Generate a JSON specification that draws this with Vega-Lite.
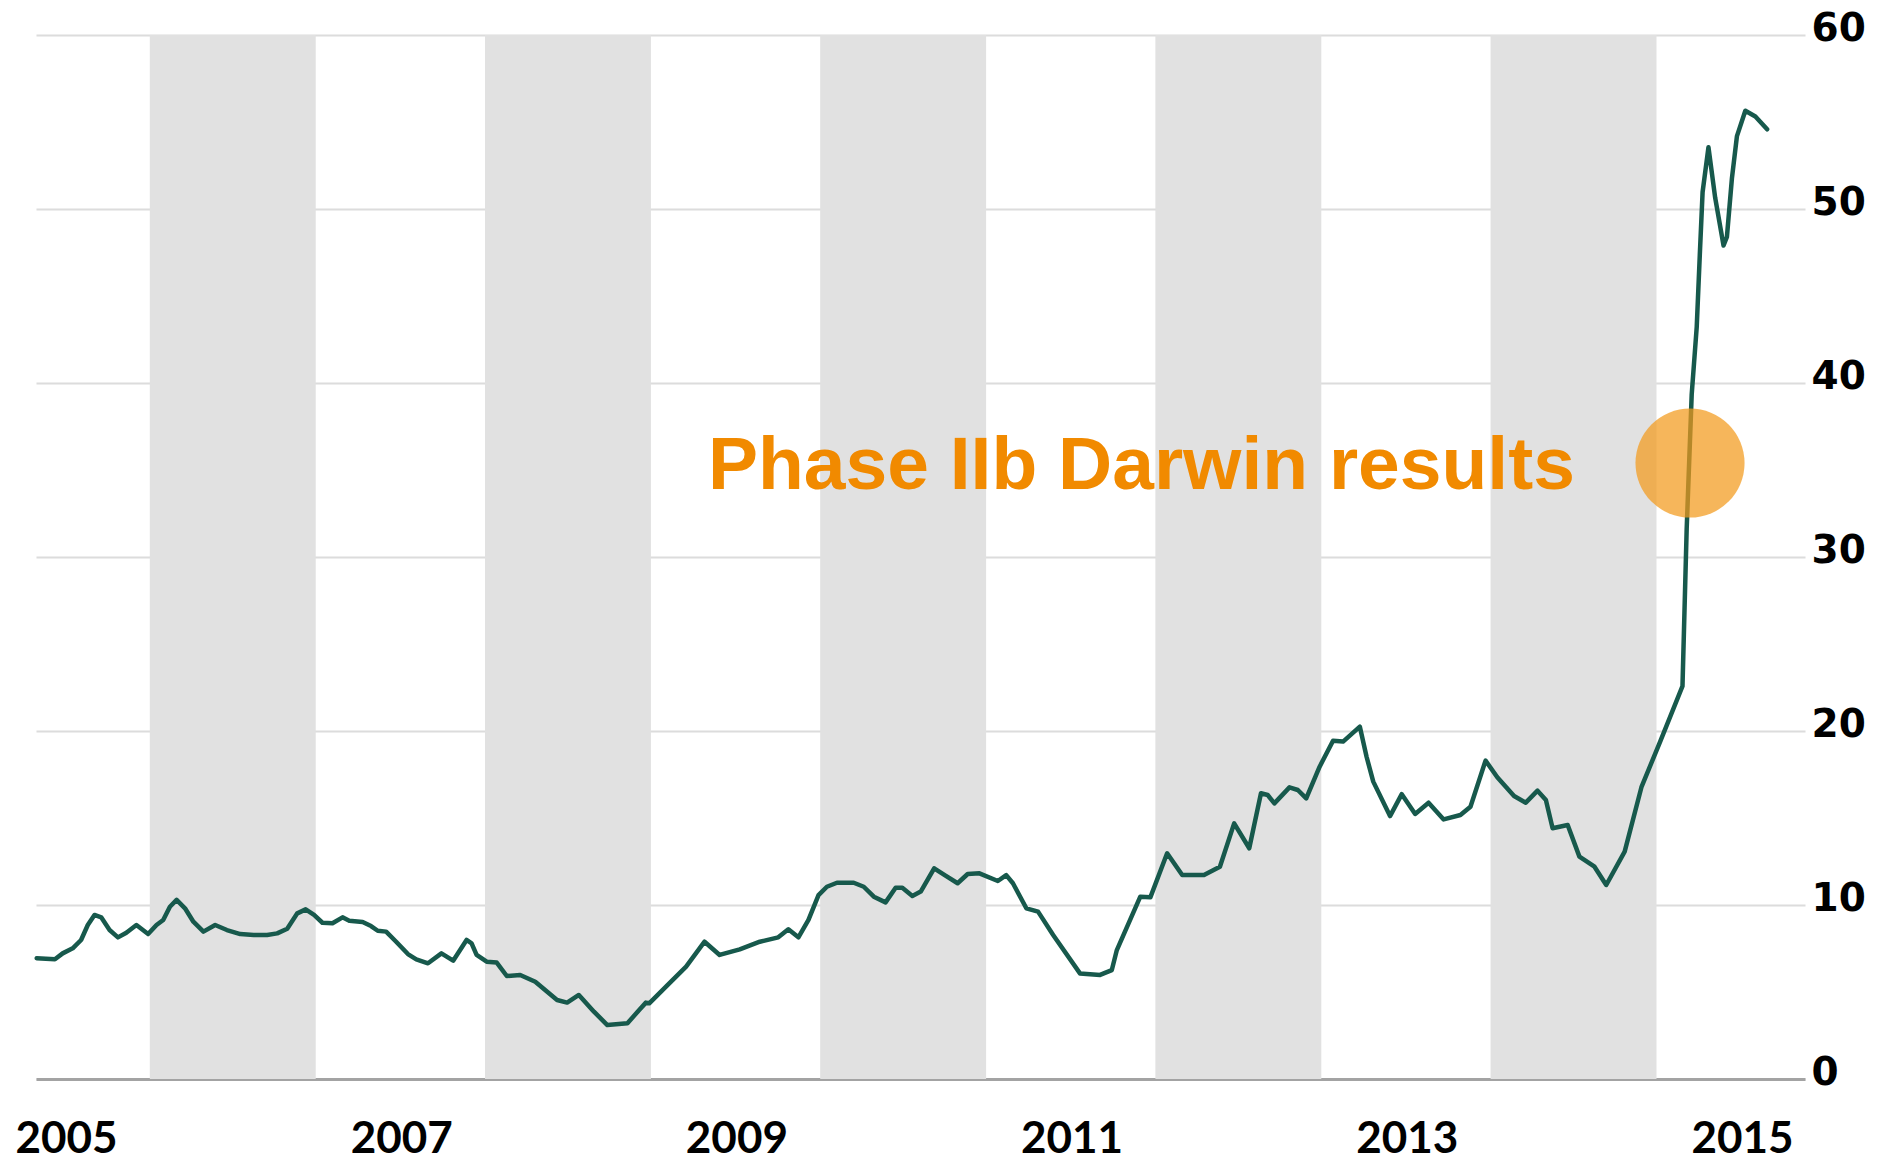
{
  "$schema": "https://vega.github.io/schema/vega-lite/v6.json",
  "width": 1769,
  "height": 1044,
  "autosize": {"type": "none"},
  "padding": {"left": 36, "top": 35, "right": 94, "bottom": 81},
  "background": "white",
  "config": {"view": {"stroke": null}},
  "datasets": {
    "bands": [
      {"start": 2005.5, "end": 2006.49},
      {"start": 2007.5, "end": 2008.49},
      {"start": 2009.5, "end": 2010.49},
      {"start": 2011.5, "end": 2012.49},
      {"start": 2013.5, "end": 2014.49}
    ],
    "series": [
      {"year": 2004.825, "value": 6.94}, {"year": 2004.934, "value": 6.88}, {"year": 2004.98, "value": 7.22},
      {"year": 2005.04, "value": 7.51}, {"year": 2005.09, "value": 7.99}, {"year": 2005.13, "value": 8.85},
      {"year": 2005.17, "value": 9.43}, {"year": 2005.21, "value": 9.29}, {"year": 2005.26, "value": 8.56},
      {"year": 2005.31, "value": 8.14}, {"year": 2005.36, "value": 8.41}, {"year": 2005.42, "value": 8.85},
      {"year": 2005.49, "value": 8.33}, {"year": 2005.54, "value": 8.85}, {"year": 2005.58, "value": 9.14},
      {"year": 2005.62, "value": 9.9}, {"year": 2005.66, "value": 10.29}, {"year": 2005.71, "value": 9.81},
      {"year": 2005.76, "value": 9.04}, {"year": 2005.82, "value": 8.47}, {"year": 2005.89, "value": 8.85},
      {"year": 2005.96, "value": 8.56}, {"year": 2006.04, "value": 8.33}, {"year": 2006.12, "value": 8.28},
      {"year": 2006.2, "value": 8.28}, {"year": 2006.26, "value": 8.37}, {"year": 2006.32, "value": 8.64},
      {"year": 2006.38, "value": 9.52}, {"year": 2006.43, "value": 9.75}, {"year": 2006.48, "value": 9.43},
      {"year": 2006.53, "value": 8.98}, {"year": 2006.59, "value": 8.95}, {"year": 2006.65, "value": 9.29},
      {"year": 2006.69, "value": 9.1}, {"year": 2006.77, "value": 9.02}, {"year": 2006.82, "value": 8.79},
      {"year": 2006.86, "value": 8.52}, {"year": 2006.91, "value": 8.47}, {"year": 2006.97, "value": 7.89},
      {"year": 2007.04, "value": 7.18}, {"year": 2007.09, "value": 6.88}, {"year": 2007.16, "value": 6.65},
      {"year": 2007.24, "value": 7.22}, {"year": 2007.31, "value": 6.8}, {"year": 2007.39, "value": 7.99},
      {"year": 2007.42, "value": 7.8}, {"year": 2007.45, "value": 7.13}, {"year": 2007.51, "value": 6.74},
      {"year": 2007.57, "value": 6.69}, {"year": 2007.63, "value": 5.92}, {"year": 2007.71, "value": 5.98},
      {"year": 2007.8, "value": 5.59}, {"year": 2007.93, "value": 4.54}, {"year": 2007.99, "value": 4.39},
      {"year": 2008.06, "value": 4.83}, {"year": 2008.15, "value": 3.87}, {"year": 2008.23, "value": 3.1},
      {"year": 2008.35, "value": 3.2}, {"year": 2008.42, "value": 3.97}, {"year": 2008.46, "value": 4.39},
      {"year": 2008.48, "value": 4.35}, {"year": 2008.58, "value": 5.31}, {"year": 2008.7, "value": 6.46},
      {"year": 2008.81, "value": 7.89}, {"year": 2008.9, "value": 7.13}, {"year": 2009.02, "value": 7.45},
      {"year": 2009.14, "value": 7.89}, {"year": 2009.25, "value": 8.14}, {"year": 2009.31, "value": 8.6},
      {"year": 2009.37, "value": 8.14}, {"year": 2009.43, "value": 9.14}, {"year": 2009.49, "value": 10.57},
      {"year": 2009.54, "value": 11.05}, {"year": 2009.6, "value": 11.28}, {"year": 2009.7, "value": 11.28},
      {"year": 2009.76, "value": 11.05}, {"year": 2009.82, "value": 10.48}, {"year": 2009.89, "value": 10.15},
      {"year": 2009.95, "value": 10.99}, {"year": 2009.99, "value": 10.99}, {"year": 2010.05, "value": 10.52},
      {"year": 2010.1, "value": 10.77}, {"year": 2010.18, "value": 12.11}, {"year": 2010.25, "value": 11.67},
      {"year": 2010.32, "value": 11.25}, {"year": 2010.38, "value": 11.78}, {"year": 2010.45, "value": 11.82},
      {"year": 2010.56, "value": 11.38}, {"year": 2010.61, "value": 11.72}, {"year": 2010.65, "value": 11.25},
      {"year": 2010.73, "value": 9.81}, {"year": 2010.8, "value": 9.62}, {"year": 2010.89, "value": 8.28},
      {"year": 2011.05, "value": 6.07}, {"year": 2011.17, "value": 5.98}, {"year": 2011.24, "value": 6.26},
      {"year": 2011.27, "value": 7.41}, {"year": 2011.41, "value": 10.48}, {"year": 2011.47, "value": 10.44},
      {"year": 2011.57, "value": 12.97}, {"year": 2011.66, "value": 11.72}, {"year": 2011.79, "value": 11.72},
      {"year": 2011.885, "value": 12.2}, {"year": 2011.97, "value": 14.69}, {"year": 2012.06, "value": 13.26},
      {"year": 2012.13, "value": 16.42}, {"year": 2012.17, "value": 16.32}, {"year": 2012.21, "value": 15.84},
      {"year": 2012.3, "value": 16.76}, {"year": 2012.35, "value": 16.61}, {"year": 2012.4, "value": 16.13},
      {"year": 2012.48, "value": 17.95}, {"year": 2012.56, "value": 19.44}, {"year": 2012.62, "value": 19.39},
      {"year": 2012.72, "value": 20.25}, {"year": 2012.76, "value": 18.52}, {"year": 2012.8, "value": 17.09},
      {"year": 2012.9, "value": 15.11}, {"year": 2012.97, "value": 16.37}, {"year": 2013.05, "value": 15.23},
      {"year": 2013.13, "value": 15.88}, {"year": 2013.22, "value": 14.92}, {"year": 2013.32, "value": 15.17},
      {"year": 2013.38, "value": 15.65}, {"year": 2013.47, "value": 18.3}, {"year": 2013.54, "value": 17.34},
      {"year": 2013.64, "value": 16.26}, {"year": 2013.71, "value": 15.88}, {"year": 2013.78, "value": 16.57},
      {"year": 2013.83, "value": 16.03}, {"year": 2013.87, "value": 14.41}, {"year": 2013.96, "value": 14.6},
      {"year": 2014.03, "value": 12.78}, {"year": 2014.12, "value": 12.2}, {"year": 2014.19, "value": 11.15},
      {"year": 2014.3, "value": 13.07}, {"year": 2014.4, "value": 16.77}, {"year": 2014.51, "value": 19.35},
      {"year": 2014.645, "value": 22.58}, {"year": 2014.67, "value": 31.61}, {"year": 2014.7, "value": 39.35},
      {"year": 2014.73, "value": 43.23}, {"year": 2014.75, "value": 47.74}, {"year": 2014.765, "value": 50.97},
      {"year": 2014.8, "value": 53.55}, {"year": 2014.84, "value": 50.65}, {"year": 2014.89, "value": 47.9},
      {"year": 2014.91, "value": 48.39}, {"year": 2014.94, "value": 51.77}, {"year": 2014.97, "value": 54.19},
      {"year": 2015.02, "value": 55.65}, {"year": 2015.08, "value": 55.32}, {"year": 2015.15, "value": 54.58}
    ],
    "marker": [{"year": 2014.69, "value": 35.4}],
    "note": [{"year": 2008.83, "value": 33.9, "label": "Phase IIb Darwin results"}]
  },
  "layer": [
    {
      "data": {"name": "bands"},
      "mark": {"type": "rect", "color": "#e1e1e1"},
      "encoding": {
        "x": {
          "field": "start", "type": "quantitative", "title": null,
          "scale": {"domain": [2004.821, 2015.376], "nice": false, "zero": false},
          "axis": {
            "orient": "bottom", "values": [2005, 2007, 2009, 2011, 2013, 2015], "format": "d",
            "grid": false, "ticks": false, "domain": true, "domainColor": "#a3a3a3", "domainWidth": 3,
            "labelFont": "Lato", "labelFontWeight": "bold", "labelFontSize": 44, "labelColor": "#000000",
            "labelPadding": 38, "labelFlush": false, "labelBound": false, "labelOverlap": false
          }
        },
        "x2": {"field": "end"},
        "y": {
          "datum": 0, "type": "quantitative", "title": null,
          "scale": {"domain": [0, 60], "nice": false},
          "axis": {
            "orient": "right", "values": [0, 10, 20, 30, 40, 50, 60], "format": "d",
            "grid": true, "gridColor": "#dcdcdc", "gridWidth": 2, "ticks": false, "domain": false,
            "labelFont": "DejaVu Sans", "labelFontWeight": "bold", "labelFontSize": 39, "labelColor": "#000000",
            "labelPadding": 6, "labelBaseline": "middle", "labelOffset": -7, "labelAlign": "left", "labelOverlap": false
          }
        },
        "y2": {"datum": 60}
      }
    },
    {
      "data": {"name": "series"},
      "mark": {"type": "line", "color": "#17594c", "strokeWidth": 4.5, "strokeJoin": "round", "strokeCap": "round"},
      "encoding": {
        "x": {"field": "year", "type": "quantitative", "title": null},
        "y": {"field": "value", "type": "quantitative", "title": null}
      }
    },
    {
      "data": {"name": "marker"},
      "mark": {"type": "point", "filled": true, "shape": "circle", "size": 11900, "color": "#f39a1c", "opacity": 0.72},
      "encoding": {
        "x": {"field": "year", "type": "quantitative", "title": null},
        "y": {"field": "value", "type": "quantitative", "title": null}
      }
    },
    {
      "data": {"name": "note"},
      "mark": {"type": "text", "align": "left", "baseline": "alphabetic", "font": "Liberation Sans", "fontWeight": "bold", "fontSize": 75, "color": "#f18a00"},
      "encoding": {
        "x": {"field": "year", "type": "quantitative", "title": null},
        "y": {"field": "value", "type": "quantitative", "title": null},
        "text": {"field": "label"}
      }
    }
  ]
}
